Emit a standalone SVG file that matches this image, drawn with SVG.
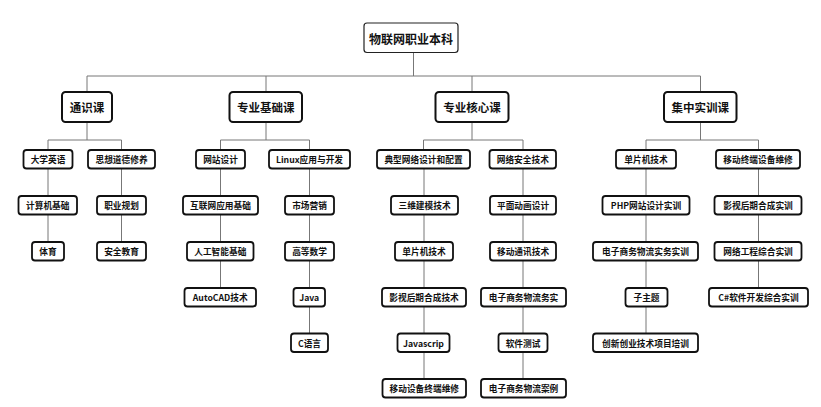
<svg xmlns="http://www.w3.org/2000/svg" width="821" height="407" viewBox="0 0 821 407">
<style>
.bg{fill:#fff}
.c{fill:none;stroke:#777;stroke-width:1}
.root rect{fill:#fff;stroke:#222;stroke-width:1.2}
.l1 rect{fill:#fff;stroke:#111;stroke-width:2}
.lf rect{fill:#fff;stroke:#111;stroke-width:1.8}
text{font-family:"Noto Sans CJK SC","Noto Sans",sans-serif;font-weight:bold;fill:#111;text-anchor:middle;dominant-baseline:central}
.root text{font-size:12px}
.l1 text{font-size:11.5px}
.lf text{font-size:8.7px}
</style>
<rect class="bg" width="821" height="407"/>
<g id="connectors" class="c">
<path d="M413.5 52.5V76M87 76H700.5M87 76V92M266 76V92M472 76V92M700.5 76V92"/>
<path d="M87 122V140M48 140H121.5M48 140V150M121.5 140V150"/>
<path d="M266 122V140M220.5 140H309.5M220.5 140V150M309.5 140V150"/>
<path d="M472 122V140M423.5 140H523M423.5 140V150M523 140V150"/>
<path d="M700.5 122V140M646 140H758.5M646 140V150M758.5 140V150"/>
<path d="M48 168.5V242M121.5 168.5V242M220.5 168.5V288M309.5 168.5V333.5M424 168.5V379M523 168.5V379M646 168.5V333.5M758.5 168.5V288"/>
</g>
<g id="root" class="root"><rect x="364" y="23" width="94" height="29.5" rx="3"/><text x="411" y="38">物联网职业本科</text></g>
<g id="n1" class="l1"><rect x="62" y="92" width="50" height="30" rx="3.5"/><text x="87" y="107">通识课</text></g>
<g id="n2" class="l1"><rect x="229.5" y="92" width="72.5" height="30" rx="3.5"/><text x="265.75" y="107">专业基础课</text></g>
<g id="n3" class="l1"><rect x="435.5" y="92" width="73" height="30" rx="3.5"/><text x="472" y="107">专业核心课</text></g>
<g id="n4" class="l1"><rect x="664" y="92" width="72.5" height="30" rx="3.5"/><text x="700.25" y="107">集中实训课</text></g>

<g id="a1" class="lf"><rect x="23.5" y="150" width="49" height="18.5" rx="3"/><text x="48" y="159.5">大学英语</text></g>
<g id="a2" class="lf"><rect x="88" y="150" width="67" height="18.5" rx="3"/><text x="121.5" y="159.5">思想道德修养</text></g>
<g id="a3" class="lf"><rect x="18.5" y="196" width="58.5" height="18.5" rx="3"/><text x="47.75" y="205.5">计算机基础</text></g>
<g id="a4" class="lf"><rect x="32" y="242" width="32" height="18.5" rx="3"/><text x="48" y="251.5">体育</text></g>
<g id="a5" class="lf"><rect x="97" y="196" width="49" height="18.5" rx="3"/><text x="121.5" y="205.5">职业规划</text></g>
<g id="a6" class="lf"><rect x="97" y="242" width="49" height="18.5" rx="3"/><text x="121.5" y="251.5">安全教育</text></g>

<g id="b1" class="lf"><rect x="196" y="150" width="49" height="18.5" rx="3"/><text x="220.5" y="159.5">网站设计</text></g>
<g id="b2" class="lf"><rect x="269" y="150" width="81" height="18.5" rx="3"/><text x="309.5" y="159.5">Linux应用与开发</text></g>
<g id="b3" class="lf"><rect x="183" y="196" width="75" height="18.5" rx="3"/><text x="220.5" y="205.5">互联网应用基础</text></g>
<g id="b4" class="lf"><rect x="187" y="242" width="66.5" height="18.5" rx="3"/><text x="220.25" y="251.5">人工智能基础</text></g>
<g id="b5" class="lf"><rect x="184.5" y="288" width="71.5" height="18.5" rx="3"/><text x="220.25" y="297.5">AutoCAD技术</text></g>
<g id="b6" class="lf"><rect x="285" y="196" width="49" height="18.5" rx="3"/><text x="309.5" y="205.5">市场营销</text></g>
<g id="b7" class="lf"><rect x="285" y="242" width="49" height="18.5" rx="3"/><text x="309.5" y="251.5">高等数学</text></g>
<g id="b8" class="lf"><rect x="293.5" y="288" width="31.5" height="18.5" rx="3"/><text x="309.25" y="297.5">Java</text></g>
<g id="b9" class="lf"><rect x="291" y="333.5" width="37" height="18.5" rx="3"/><text x="309.5" y="343">C语言</text></g>

<g id="c1" class="lf"><rect x="377" y="150" width="93" height="18.5" rx="3"/><text x="423.5" y="159.5">典型网络设计和配置</text></g>
<g id="c2" class="lf"><rect x="489.5" y="150" width="66.5" height="18.5" rx="3"/><text x="522.75" y="159.5">网络安全技术</text></g>
<g id="c3" class="lf"><rect x="391" y="196" width="67" height="18.5" rx="3"/><text x="424.5" y="205.5">三维建模技术</text></g>
<g id="c4" class="lf"><rect x="395" y="242" width="58" height="18.5" rx="3"/><text x="424" y="251.5">单片机技术</text></g>
<g id="c5" class="lf"><rect x="382" y="288" width="84" height="18.5" rx="3"/><text x="424" y="297.5">影视后期合成技术</text></g>
<g id="c6" class="lf"><rect x="397.5" y="333.5" width="52" height="18.5" rx="3"/><text x="423.5" y="343">Javascrip</text></g>
<g id="c7" class="lf"><rect x="382.5" y="379" width="83.5" height="18.5" rx="3"/><text x="424.25" y="388.5">移动设备终端维修</text></g>
<g id="c8" class="lf"><rect x="490" y="196" width="66" height="18.5" rx="3"/><text x="523" y="205.5">平面动画设计</text></g>
<g id="c9" class="lf"><rect x="490" y="242" width="66" height="18.5" rx="3"/><text x="523" y="251.5">移动通讯技术</text></g>
<g id="c10" class="lf"><rect x="481" y="288" width="85" height="18.5" rx="3"/><text x="523.5" y="297.5">电子商务物流务实</text></g>
<g id="c11" class="lf"><rect x="498.5" y="333.5" width="49" height="18.5" rx="3"/><text x="523" y="343">软件测试</text></g>
<g id="c12" class="lf"><rect x="481" y="379" width="85" height="18.5" rx="3"/><text x="523.5" y="388.5">电子商务物流案例</text></g>

<g id="d1" class="lf"><rect x="616" y="150" width="60" height="18.5" rx="3"/><text x="646" y="159.5">单片机技术</text></g>
<g id="d2" class="lf"><rect x="716" y="150" width="84" height="18.5" rx="3"/><text x="758" y="159.5">移动终端设备维修</text></g>
<g id="d3" class="lf"><rect x="602.5" y="196" width="87" height="18.5" rx="3"/><text x="646" y="205.5">PHP网站设计实训</text></g>
<g id="d4" class="lf"><rect x="593" y="242" width="105" height="18.5" rx="3"/><text x="645.5" y="251.5">电子商务物流实务实训</text></g>
<g id="d5" class="lf"><rect x="625.5" y="288" width="42" height="18.5" rx="3"/><text x="646.5" y="297.5">子主题</text></g>
<g id="d6" class="lf"><rect x="593" y="333.5" width="105" height="18.5" rx="3"/><text x="645.5" y="343">创新创业技术项目培训</text></g>
<g id="d7" class="lf"><rect x="714.5" y="196" width="87" height="18.5" rx="3"/><text x="758" y="205.5">影视后期合成实训</text></g>
<g id="d8" class="lf"><rect x="714.5" y="242" width="87" height="18.5" rx="3"/><text x="758" y="251.5">网络工程综合实训</text></g>
<g id="d9" class="lf"><rect x="709" y="288" width="99" height="18.5" rx="3"/><text x="758.5" y="297.5">C#软件开发综合实训</text></g>
</svg>
